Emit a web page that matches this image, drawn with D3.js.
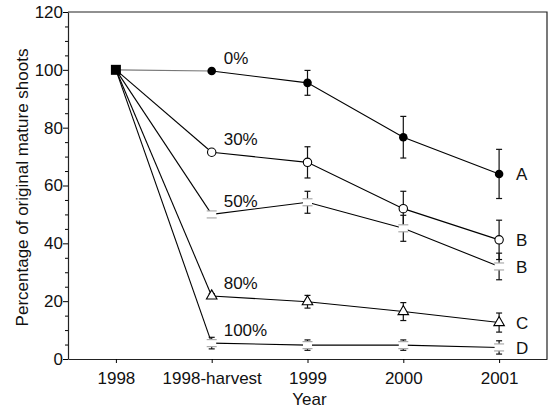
<!DOCTYPE html>
<html>
<head>
<meta charset="utf-8">
<script src="https://cdn.jsdelivr.net/npm/d3@7"></script>
<style>
  body { margin: 0; background: #fff; }
  svg { display: block; font-family: "Liberation Sans", Arial, sans-serif; }
</style>
</head>
<body>
<svg id="chart" width="551" height="408"></svg>
<script>
// x categories
const years = ['1998', '1998-harvest', '1999', '2000', '2001'];
// harvest intensity treatments
const treatments = ['0%', '30%', '50%', '80%', '100%'];
const groupLetters = ['A', 'B', 'B', 'C', 'D'];
// means (% of original mature shoots)
const mean0 = [100, 99.6, 95.5, 76.7, 64.0];
const mean30 = [100, 71.5, 68.0, 52.0, 41.2];
const mean50 = [100, 50.0, 54.2, 45.2, 32.0];
const mean80 = [100, 21.8, 19.8, 16.4, 12.6];
const mean100 = [100, 5.5, 4.8, 4.8, 4.0];
// standard errors
const err0 = [0, 0, 4.3, 7.2, 8.5];
const err30 = [0, 0, 5.4, 6.0, 6.8];
const err50 = [0, 0, 3.8, 4.5, 4.6];
const err80 = [0, 0.8, 2.2, 3.1, 3.3];
const err100 = [0, 2.0, 1.8, 1.8, 2.3];
const yTicks = [0, 20, 40, 60, 80, 100, 120];

const means = [mean0, mean30, mean50, mean80, mean100];
const errs = [err0, err30, err50, err80, err100];
const markers = ['filled', 'open', 'box', 'triangle', 'box'];

const W = 551, H = 408;
const m = {top: 12, right: 4, bottom: 49, left: 68};
const fs = '17px';
const svg = d3.select('#chart');

const x = d3.scalePoint().domain(years)
  .range([m.left, W - m.right]).padding(0.5);
const y = d3.scaleLinear().domain([0, 120])
  .range([H - m.bottom, m.top]);

// frame (top + right)
svg.append('path')
  .attr('d', `M${m.left},${m.top}H${W - m.right}V${H - m.bottom}`)
  .attr('fill', 'none').attr('stroke', '#222').attr('stroke-width', 1.2);

// y axis: minor ticks every 5
svg.append('g')
  .attr('transform', `translate(${m.left},0)`)
  .call(d3.axisLeft(y).tickValues(d3.range(0, 121, 5).filter(v => v % 20)).tickSize(3).tickFormat(''))
  .call(g => g.select('.domain').remove());
const yAxis = svg.append('g')
  .attr('transform', `translate(${m.left},0)`)
  .call(d3.axisLeft(y).tickValues(yTicks).tickSize(5).tickPadding(0).tickSizeOuter(0));
yAxis.selectAll('text').style('font-size', fs).attr('fill', '#111');

const xAxis = svg.append('g')
  .attr('transform', `translate(0,${H - m.bottom})`)
  .call(d3.axisBottom(x).tickSize(4).tickPadding(9).tickSizeOuter(0));
xAxis.selectAll('text').style('font-size', fs).attr('fill', '#111');
svg.selectAll('.domain').attr('stroke', '#222').attr('stroke-width', 1.2);

// axis titles
svg.append('text')
  .attr('x', (m.left + W - m.right) / 2 + 2).attr('y', 405)
  .attr('text-anchor', 'middle').style('font-size', fs).attr('fill', '#111')
  .text('Year');
svg.append('text')
  .attr('transform', `translate(28,${(m.top + H - m.bottom) / 2 + 2}) rotate(-90)`)
  .attr('text-anchor', 'middle').style('font-size', fs).attr('fill', '#111')
  .text('Percentage of original mature shoots');

const line = d3.line().x(d => x(d[0])).y(d => y(d[1]));

means.forEach((vals, s) => {
  const pts = years.map((yr, i) => [yr, vals[i]]);
  // first drop from 1998
  svg.append('path').attr('d', line(pts.slice(0, 2)))
    .attr('fill', 'none').attr('stroke', s === 0 ? '#777' : '#000').attr('stroke-width', 1.1);
  svg.append('path').attr('d', line(pts.slice(1)))
    .attr('fill', 'none').attr('stroke', '#000').attr('stroke-width', 1.1);

  // error bars
  pts.forEach((p, i) => {
    const e = errs[s][i];
    if (!e) return;
    const cx = x(p[0]);
    const g = svg.append('g').attr('stroke', '#111').attr('stroke-width', 1.2);
    g.append('line').attr('x1', cx).attr('x2', cx).attr('y1', y(p[1] - e)).attr('y2', y(p[1] + e));
    [p[1] - e, p[1] + e].forEach(v => g.append('line')
      .attr('x1', cx - 3).attr('x2', cx + 3).attr('y1', y(v)).attr('y2', y(v)));
  });

  // markers (1998 shared square drawn later)
  pts.slice(1).forEach(p => {
    const cx = x(p[0]), cy = y(p[1]);
    const kind = markers[s];
    if (kind === 'filled') {
      svg.append('circle').attr('cx', cx).attr('cy', cy).attr('r', 4.3).attr('fill', '#000');
    } else if (kind === 'open') {
      svg.append('circle').attr('cx', cx).attr('cy', cy).attr('r', 4.2)
        .attr('fill', '#fff').attr('stroke', '#000').attr('stroke-width', 1.1);
    } else if (kind === 'triangle') {
      svg.append('path').attr('d', d3.symbol(d3.symbolTriangle, 48)())
        .attr('transform', `translate(${cx},${cy})`)
        .attr('fill', '#fff').attr('stroke', '#000').attr('stroke-width', 1.1);
    } else {
      svg.append('rect').attr('x', cx - 4.5).attr('y', cy - 3.5).attr('width', 9).attr('height', 7)
        .attr('fill', '#fff');
      [cy - 3.5, cy + 3.5].forEach(yy => svg.append('line')
        .attr('x1', cx - 5).attr('x2', cx + 5).attr('y1', yy).attr('y2', yy)
        .attr('stroke', '#aaa').attr('stroke-width', 1.2));
    }
  });

  // treatment label near harvest point
  svg.append('text')
    .attr('x', x('1998-harvest') + 12).attr('y', y(vals[1]) - 7)
    .style('font-size', fs).attr('fill', '#111')
    .text(treatments[s]);
  // significance letter at end
  svg.append('text')
    .attr('x', x('2001') + 17).attr('y', y(vals[4]))
    .attr('dy', '0.36em')
    .style('font-size', fs).attr('fill', '#111')
    .text(groupLetters[s]);
});

// shared starting point
svg.append('rect')
  .attr('x', x('1998') - 5).attr('y', y(100) - 5)
  .attr('width', 10).attr('height', 10).attr('fill', '#000');
</script>
</body>
</html>
